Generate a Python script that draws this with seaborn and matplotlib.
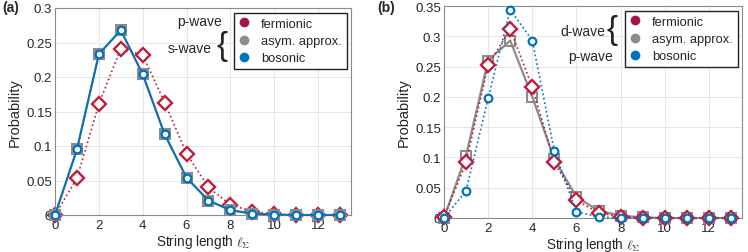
import numpy as np
import pandas as pd
import matplotlib
matplotlib.use("Agg")
import matplotlib.pyplot as plt
from matplotlib.lines import Line2D
import seaborn as sns

sns.set_style("whitegrid")
plt.rcParams['font.family'] = ['Liberation Sans', 'DejaVu Sans']
plt.rcParams['mathtext.fontset'] = 'cm'

lengths = list(range(14))

# panel (a): p-wave (fermionic) vs s-wave (asym / bosonic)
a_fermionic = [0.0, 0.053, 0.161, 0.241, 0.232, 0.163, 0.089, 0.040, 0.015, 0.005, 0.001, 0.0, 0.0, 0.0]
a_asym      = [0.0, 0.095, 0.233, 0.268, 0.204, 0.117, 0.054, 0.021, 0.007, 0.002, 0.0005, 0.0, 0.0, 0.0]
a_bosonic   = [0.0, 0.095, 0.233, 0.268, 0.204, 0.117, 0.054, 0.021, 0.007, 0.002, 0.0005, 0.0, 0.0, 0.0]

# panel (b): d-wave (fermionic / asym) vs p-wave (bosonic)
b_fermionic = [0.001, 0.092, 0.252, 0.312, 0.216, 0.092, 0.029, 0.009, 0.002, 0.0005, 0.0, 0.0, 0.0, 0.0]
b_asym      = [0.0, 0.103, 0.260, 0.293, 0.200, 0.097, 0.035, 0.012, 0.004, 0.001, 0.0, 0.0, 0.0, 0.0]
b_bosonic   = [0.0, 0.045, 0.198, 0.344, 0.293, 0.110, 0.010, 0.002, 0.0, 0.0, 0.0, 0.0, 0.0, 0.0]

series_names = ["fermionic", "asym. approx.", "bosonic"]

RED = "#BE1E3C"
MAROON = "#A2144B"
BLUE = "#0072BD"
GREY = "#8C8C8C"

fig = plt.figure(figsize=(7.48, 2.53), dpi=100)
W, H = 748, 253
def pos(l, r, t, b):
    return [l / W, 1 - b / H, (r - l) / W, (b - t) / H]

axA = fig.add_axes(pos(55, 351, 9, 216))
axB = fig.add_axes(pos(444, 742, 7, 219))

def draw(ax, ferm, asym, bos, bos_ls, asym_face, ferm_z):
    df = pd.DataFrame({"x": lengths, "f": ferm, "a": asym, "b": bos})
    sns.lineplot(data=df, x="x", y="a", ax=ax, color=GREY, lw=1.6, ls="-",
                 marker="s", markersize=7.5, markerfacecolor=asym_face,
                 markeredgecolor=GREY, markeredgewidth=1.5, clip_on=False, zorder=3)
    sns.lineplot(data=df, x="x", y="f", ax=ax, color=RED, lw=1.2, ls=":",
                 marker="D", markersize=7, markerfacecolor="white",
                 markeredgecolor=RED, markeredgewidth=1.7, clip_on=False, zorder=ferm_z)
    sns.lineplot(data=df, x="x", y="b", ax=ax, color=BLUE, lw=1.3 if bos_ls == "-" else 1.2, ls=bos_ls,
                 marker="o", markersize=5.5, markerfacecolor="white",
                 markeredgecolor=BLUE, markeredgewidth=1.6, clip_on=False, zorder=5)

draw(axA, a_fermionic, a_asym, a_bosonic, "-", GREY, 2)
draw(axB, b_fermionic, b_asym, b_bosonic, ":", "none", 4)

for ax, ymax, yt, bot, top in [(axA, 0.3, np.arange(0, 0.301, 0.05), 216, 9),
                               (axB, 0.35, np.arange(0, 0.351, 0.05), 219, 7)]:
    ax.set_xlim(0, 13.5)
    ax.set_ylim(0, ymax)
    ax.set_xticks([0, 2, 4, 6, 8, 10, 12])
    ax.set_yticks(yt)
    ax.set_yticklabels(["0"] + [f"{v:g}" for v in yt[1:]])
    ax.tick_params(axis="both", labelsize=9.5, colors="#262626", direction="in", length=3, width=0.6)
    ax.tick_params(axis="y", pad=2)
    ax.tick_params(axis="x", pad=3)
    ax.grid(True, color="#E6E6E6", lw=0.7)
    for s in ax.spines.values():
        s.set_color("#8A8A8A")
        s.set_linewidth(0.8)
    ax.set_xlabel(r"String length $\ell_\Sigma$", fontsize=9.8)
    ax.xaxis.set_label_coords(0.5, -17 / (bot - top))
    ax.xaxis.label.set_va("top")
    ax.set_ylabel("Probability", fontsize=10.5, labelpad=3)
    handles = [Line2D([], [], ls="none", marker="o", ms=6, color=c) for c in (MAROON, GREY, BLUE)]
    leg = ax.legend(handles, series_names, loc="upper right", bbox_to_anchor=(0.995, 0.99),
                    fontsize=9.3, frameon=True, fancybox=False, handlelength=0.8,
                    handletextpad=0.9, borderpad=0.4, labelspacing=0.4, borderaxespad=0.2)
    leg.get_frame().set_edgecolor("#222222")
    leg.get_frame().set_linewidth(1.0)
    leg.get_frame().set_alpha(1)
    leg.set_zorder(10)

# annotations panel (a)
fig.text(177 / W, 1 - 22 / H, "p-wave", fontsize=10, ha="left", va="center")
fig.text(168 / W, 1 - 49 / H, "s-wave", fontsize=10, ha="left", va="center")
fig.text(222 / W, 1 - 47 / H, "{", fontsize=24, ha="center", va="center", fontweight="light")
# annotations panel (b)
fig.text(560 / W, 1 - 32 / H, "d-wave", fontsize=10, ha="left", va="center")
fig.text(568 / W, 1 - 57 / H, "p-wave", fontsize=10, ha="left", va="center")
fig.text(612 / W, 1 - 31 / H, "{", fontsize=24, ha="center", va="center", fontweight="light")

fig.text(2 / W, 1 - 8 / H, "(a)", fontsize=10, fontweight="bold", ha="left", va="center")
fig.text(377 / W, 1 - 8 / H, "(b)", fontsize=10, fontweight="bold", ha="left", va="center")

fig.savefig("out.png", dpi=100)
